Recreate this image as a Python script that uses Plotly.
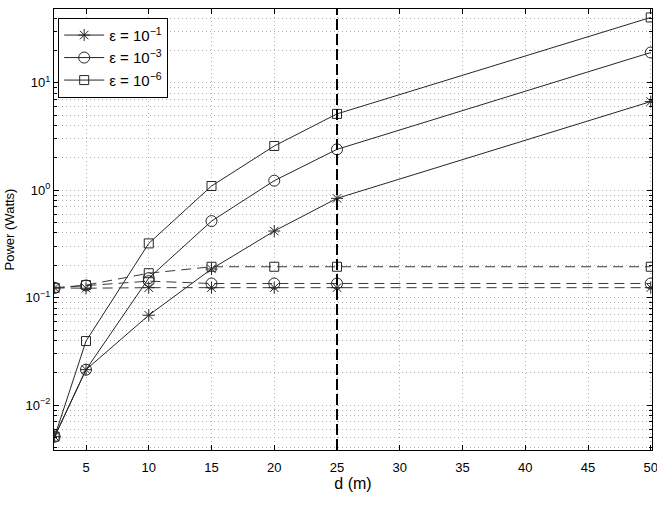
import plotly.graph_objects as go

# distances (m)
d = [2.5, 5, 10, 15, 20, 25, 50]

# solid curves (with legend)
labels = ["ε = 10<sup>−1</sup>", "ε = 10<sup>−3</sup>", "ε = 10<sup>−6</sup>"]
p_e1 = [0.0051, 0.0214, 0.0687, 0.185, 0.417, 0.84, 6.68]
p_e3 = [0.0051, 0.0214, 0.152, 0.516, 1.226, 2.40, 19.1]
p_e6 = [0.0051, 0.0395, 0.32, 1.094, 2.58, 5.13, 40.5]

# dashed curves (no legend)
q_e1 = [0.1234, 0.1225, 0.124, 0.124, 0.124, 0.124, 0.124]
q_e3 = [0.1234, 0.130, 0.1426, 0.1355, 0.1355, 0.1355, 0.1355]
q_e6 = [0.1234, 0.131, 0.169, 0.194, 0.194, 0.194, 0.194]

d_threshold = 25

x_ticks = [5, 10, 15, 20, 25, 30, 35, 40, 45, 50]
y_ticks = [0.01, 0.1, 1, 10]
y_ticktext = ["10<sup>−2</sup>", "10<sup>−1</sup>", "10<sup>0</sup>", "10<sup>1</sup>"]
y_minor = [k * 10.0 ** e for e in range(-3, 2) for k in range(2, 10)]

symbols = ["asterisk-open", "circle-open", "square-open"]
sizes = [10, 11, 9]
solid = [p_e1, p_e3, p_e6]
dashed = [q_e1, q_e3, q_e6]

fig = go.Figure()
line_col = "#262626"
for i, (lab, ys, sym, sz) in enumerate(zip(labels, solid, symbols, sizes)):
    fig.add_trace(go.Scatter(
        x=d, y=ys, mode="lines+markers", name=lab, legendgroup=f"g{i}",
        line=dict(color=line_col, width=1),
        marker=dict(symbol=sym, size=sz, color=line_col, line=dict(color=line_col, width=1)),
    ))
for ys, sym, sz in zip(dashed, symbols, sizes):
    fig.add_trace(go.Scatter(
        x=d, y=ys, mode="lines+markers", showlegend=False,
        line=dict(color="#3a3a3a", width=1, dash="10px,6px"),
        marker=dict(symbol=sym, size=sz, color=line_col, line=dict(color=line_col, width=1)),
    ))

fig.add_vline(x=d_threshold, line=dict(color="black", width=2, dash="11px,4px"))

gcol = "#b0b0b0"
gdash = "1px,3px"
grid = dict(showgrid=True, gridcolor=gcol, griddash=gdash, gridwidth=1)
fig.update_layout(
    width=657, height=505,
    margin=dict(l=54, r=5, t=9, b=55),
    template="none",
    paper_bgcolor="white", plot_bgcolor="white",
    font=dict(family="Liberation Sans, Arial, sans-serif", size=13, color="black"),
    showlegend=True,
    legend=dict(x=0.007, y=0.98, xanchor="left", yanchor="top",
                bgcolor="white", bordercolor="black", borderwidth=1,
                font=dict(size=15), tracegroupgap=0, itemwidth=40),
    xaxis=dict(range=[2.45, 50.1], tickmode="array", tickvals=x_ticks,
               ticks="inside", ticklen=5, tickcolor="black", mirror="ticks",
               showline=True, linecolor="black", linewidth=1, zeroline=False,
               ticklabelstandoff=5, ticklabeloverflow="allow",
               title=dict(text="d (m)", standoff=2), **grid),
    yaxis=dict(type="log", range=[-2.417, 1.686], tickmode="array",
               tickvals=y_ticks, ticktext=y_ticktext,
               ticks="inside", ticklen=5, tickcolor="black", mirror="ticks",
               showline=True, linecolor="black", linewidth=1, zeroline=False,
               ticklabeloverflow="allow",
               minor=dict(tickmode="array", tickvals=y_minor, ticks="inside",
                          ticklen=3, tickcolor="black", showgrid=True,
                          gridcolor=gcol, griddash=gdash, gridwidth=1),
               **grid),
    annotations=[dict(text="Power (Watts)", xref="paper", yref="paper",
                      x=-0.0737, y=0.5, xanchor="center", yanchor="middle",
                      textangle=-90, showarrow=False, font=dict(size=13))],
)

fig.write_html("out.html")
